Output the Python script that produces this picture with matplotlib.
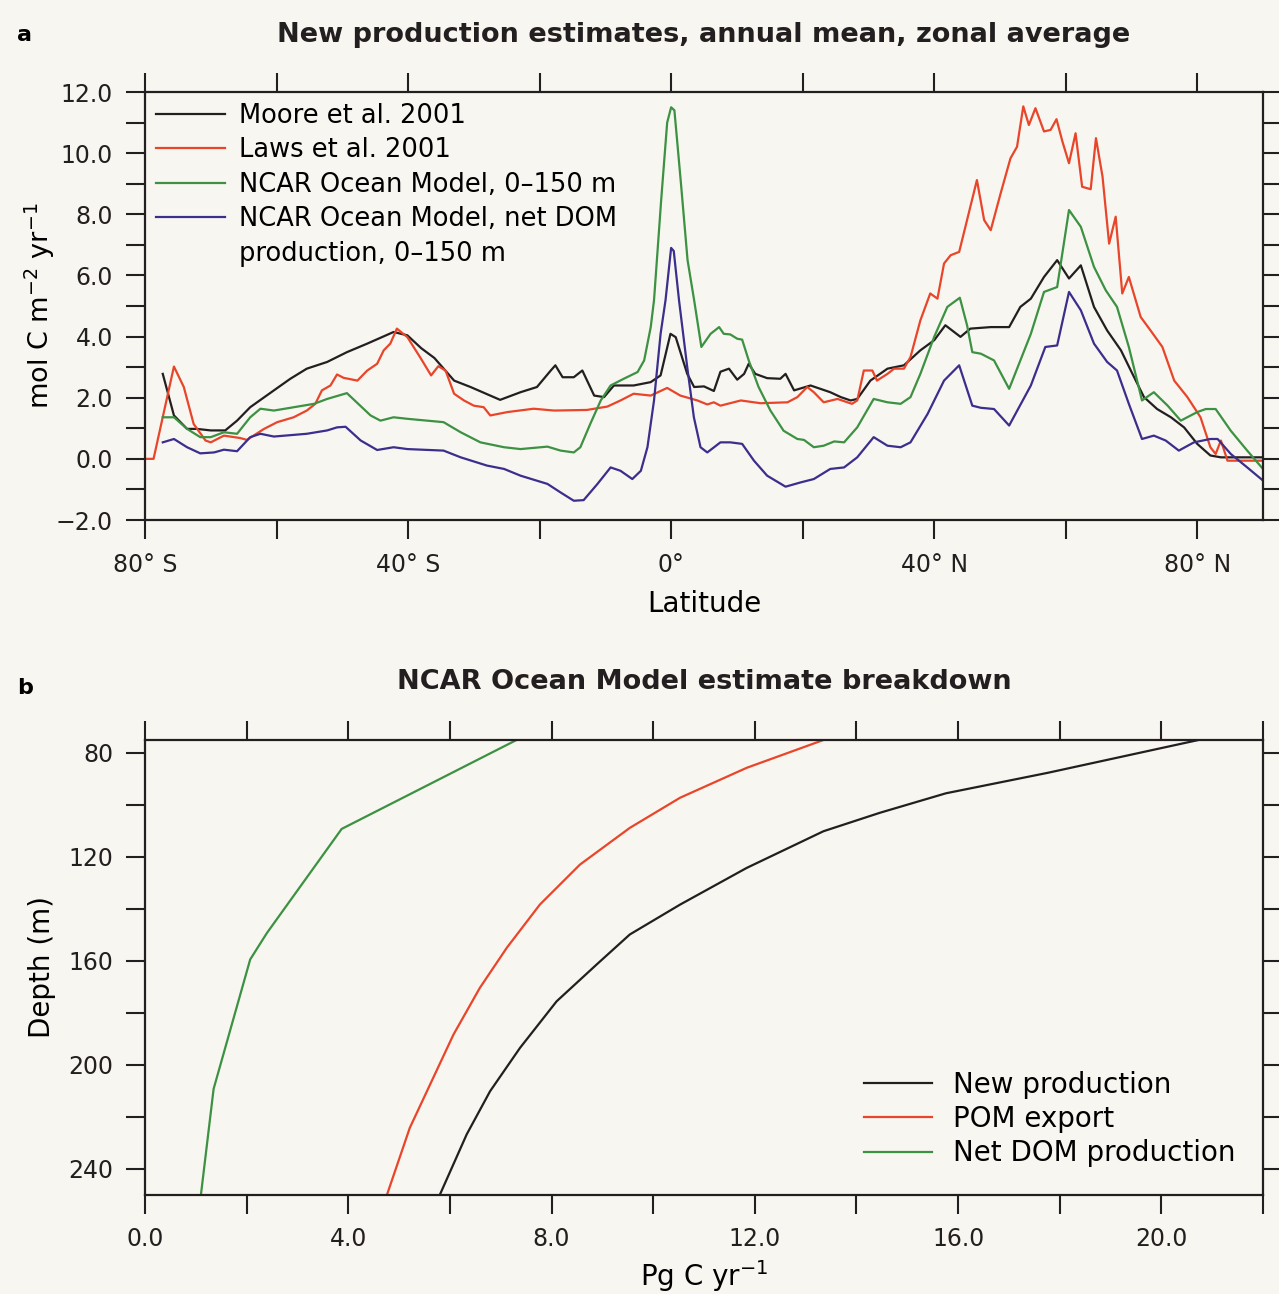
#new production figure - two panels
import numpy as np
import matplotlib
matplotlib.use('Agg')
import matplotlib.pyplot as plt
from matplotlib.ticker import MultipleLocator, FixedLocator, FixedFormatter, FormatStrFormatter, FuncFormatter
from matplotlib.lines import Line2D

plt.rcParams['font.family'] = ['DejaVu Sans']
plt.rcParams['mathtext.fontset'] = 'dejavusans'

# ---- panel a: zonal mean new production (mol C m-2 yr-1) ----
moore_lat = [-77.3, -75.6, -73.6, -72.1, -70.0, -67.8, -66.0, -64.0, -60.4, -57.9, -55.4, -52.3,
             -49.3, -46.2, -42.2, -40.1, -38.0, -36.0, -33.0, -30.5, -26.0, -22.9, -20.4, -18.3,
             -17.6, -16.5, -14.8, -13.5, -11.7, -10.2, -8.7, -5.7, -3.1, -1.6, -0.1, 0.7, 2.45,
             3.5, 5.0, 6.5, 7.5, 8.8, 10.05, 11.1, 11.8, 12.8, 14.6, 16.6, 17.4, 18.7, 21.2, 24.2,
             25.8, 27.3, 28.3, 30.3, 32.9, 35.4, 37.9, 40.0, 41.7, 44.0, 45.5, 48.6, 51.4, 53.1,
             54.7, 56.7, 58.7, 60.5, 62.3, 64.3, 66.3, 68.4, 69.9, 71.9, 73.9, 76.0, 78.0, 80.0,
             82.0, 83.6, 90.0]
moore_val = [2.78, 1.42, 0.98, 0.98, 0.93, 0.93, 1.25, 1.69, 2.24, 2.62, 2.95, 3.17,
             3.49, 3.77, 4.15, 4.04, 3.62, 3.30, 2.56, 2.35, 1.93, 2.18, 2.35, 2.89,
             3.06, 2.67, 2.67, 2.89, 2.07, 2.02, 2.40, 2.40, 2.51, 2.73, 4.09, 3.98, 2.78,
             2.35, 2.37, 2.22, 2.85, 2.95, 2.59, 2.78, 3.11, 2.78, 2.64, 2.62, 2.78, 2.24, 2.40, 2.18,
             2.02, 1.91, 1.96, 2.56, 2.95, 3.06, 3.55, 3.88, 4.37, 3.99, 4.26, 4.31, 4.31, 4.97,
             5.24, 5.95, 6.50, 5.90, 6.33, 4.97, 4.20, 3.55, 2.89, 2.02, 1.63, 1.36, 1.03, 0.49,
             0.11, 0.05, 0.05]

laws_lat = [-80.0, -78.7, -75.6, -74.1, -72.6, -70.8, -70.0, -68.0, -65.5, -64.5, -61.9, -59.9,
            -57.4, -55.4, -54.1, -53.1, -51.8, -50.8, -49.8, -47.7, -46.2, -44.7, -43.7, -42.7,
            -41.7, -40.1, -38.1, -36.5, -35.4, -34.3, -33.0, -31.5, -30.0, -28.5, -27.5, -24.9,
            -20.9, -17.8, -12.8, -9.7, -7.7, -5.7, -3.1, -0.6, 1.4, 4.0, 5.5, 6.5, 7.5, 10.6,
            13.6, 17.7, 19.2, 20.7, 21.7, 23.2, 25.3, 27.5, 28.3, 29.3, 30.6, 31.3, 32.9, 33.9,
            35.4, 36.4, 37.9, 39.4, 40.5, 41.5, 42.5, 43.8, 45.0, 46.5, 47.6, 48.6, 50.1, 51.6,
            52.6, 53.55, 54.4, 55.4, 56.7, 57.7, 58.6, 59.5, 60.5, 61.5, 62.5, 63.8, 64.6, 65.6,
            66.6, 67.6, 68.6, 69.6, 71.4, 72.9, 74.7, 76.5, 78.5, 80.5, 82.0, 82.8, 83.6, 84.6,
            90.0]
laws_val = [0.0, 0.0, 3.02, 2.35, 1.14, 0.60, 0.54, 0.76, 0.68, 0.62, 0.98, 1.20,
            1.36, 1.58, 1.80, 2.24, 2.40, 2.76, 2.65, 2.56, 2.89, 3.11, 3.55, 3.77,
            4.26, 3.98, 3.30, 2.73, 3.03, 2.89, 2.13, 1.91, 1.74, 1.69, 1.42, 1.53,
            1.64, 1.58, 1.60, 1.71, 1.91, 2.13, 2.07, 2.32, 2.07, 1.91, 1.78, 1.85, 1.74, 1.91,
            1.82, 1.85, 2.02, 2.35, 2.18, 1.85, 1.96, 1.80, 1.91, 2.89, 2.89, 2.56, 2.78, 2.95,
            2.95, 3.33, 4.53, 5.41, 5.24, 6.39, 6.66, 6.77, 7.81, 9.12, 7.81, 7.48, 8.68, 9.83,
            10.21, 11.53, 10.92, 11.47, 10.71, 10.76, 11.11, 10.38, 9.67, 10.65, 8.90, 8.82, 10.49, 9.23,
            7.04, 7.92, 5.41, 5.95, 4.64, 4.20, 3.66, 2.56, 2.02, 1.36, 0.38, 0.16, 0.60, -0.06,
            -0.06]

ncar_lat = [-77.3, -75.6, -73.6, -71.6, -70.0, -68.0, -66.0, -64.0, -62.45, -60.4, -57.9, -54.3,
            -52.3, -49.3, -45.7, -44.2, -42.2, -40.1, -34.6, -32.0, -29.0, -25.4, -22.9, -18.8,
            -16.8, -14.8, -13.8, -12.3, -10.7, -9.2, -7.2, -5.1, -4.1, -3.1, -2.6, -1.5, -0.6,
            0.0, 0.5, 1.5, 2.5, 3.5, 4.6, 6.0, 7.3, 8.0, 9.0, 10.05, 10.8, 11.8, 13.3, 15.1,
            17.1, 19.2, 20.2, 21.7, 23.2, 24.8, 26.3, 28.3, 30.8, 32.9, 34.9, 36.4, 37.9, 40.0,
            42.0, 43.9, 45.0, 45.8, 47.1, 49.1, 51.4, 54.7, 56.7, 58.7, 60.5, 62.3, 64.3, 66.1,
            67.8, 69.6, 71.6, 73.4, 75.5, 77.5, 80.0, 81.3, 82.8, 85.1, 87.6, 90.0]
ncar_val = [1.36, 1.36, 0.98, 0.71, 0.71, 0.87, 0.82, 1.36, 1.64, 1.58, 1.67, 1.80,
            1.96, 2.15, 1.42, 1.25, 1.36, 1.31, 1.20, 0.87, 0.54, 0.38, 0.32, 0.40,
            0.27, 0.21, 0.38, 1.14, 1.91, 2.40, 2.62, 2.84, 3.22, 4.31, 5.19, 8.5, 11.0,
            11.5, 11.4, 9.0, 6.5, 5.19, 3.66, 4.09, 4.31, 4.09, 4.07, 3.93, 3.90, 3.22, 2.35, 1.58,
            0.92, 0.65, 0.62, 0.38, 0.43, 0.57, 0.54, 1.03, 1.96, 1.85, 1.80, 2.02, 2.78, 3.99,
            4.97, 5.27, 4.37, 3.49, 3.44, 3.22, 2.29, 4.09, 5.46, 5.62, 8.14, 7.59, 6.28, 5.51,
            4.97, 3.66, 1.91, 2.18, 1.74, 1.25, 1.53, 1.63, 1.63, 0.92, 0.27, -0.33]

dom_lat = [-77.3, -75.6, -73.6, -71.6, -69.5, -68.0, -66.0, -64.0, -62.45, -60.4, -55.4, -52.3,
           -50.8, -49.5, -47.2, -44.7, -42.2, -40.1, -34.6, -32.0, -28.0, -25.4, -22.9, -18.8,
           -16.8, -14.8, -13.3, -11.2, -9.2, -7.7, -5.9, -4.6, -3.6, -2.6, -1.6, -0.85, 0.0,
           0.4, 1.2, 2.45, 3.46, 4.47, 5.5, 7.5, 9.0, 10.8, 12.6, 14.6, 17.4, 19.7, 21.7, 24.2,
           26.3, 28.3, 30.8, 32.9, 34.9, 36.4, 39.0, 41.5, 43.8, 45.8, 47.1, 49.1, 51.4, 54.7,
           56.9, 58.7, 60.5, 62.3, 64.3, 66.3, 67.8, 69.6, 71.6, 73.4, 75.2, 77.2, 79.5, 82.0,
           83.1, 85.1, 87.6, 90.0]
dom_val = [0.54, 0.65, 0.38, 0.18, 0.21, 0.30, 0.25, 0.71, 0.82, 0.73, 0.82, 0.93,
           1.03, 1.05, 0.60, 0.29, 0.38, 0.32, 0.27, 0.05, -0.22, -0.33, -0.55, -0.82,
           -1.10, -1.37, -1.35, -0.82, -0.28, -0.39, -0.66, -0.39, 0.38, 1.91, 4.09, 5.19, 6.9,
           6.8, 5.19, 3.00, 1.36, 0.38, 0.21, 0.54, 0.54, 0.49, -0.06, -0.55, -0.91, -0.77, -0.66, -0.33,
           -0.28, 0.05, 0.71, 0.43, 0.38, 0.54, 1.47, 2.56, 3.06, 1.74, 1.67, 1.63, 1.09, 2.40,
           3.66, 3.71, 5.46, 4.86, 3.77, 3.17, 2.89, 1.80, 0.65, 0.76, 0.60, 0.27, 0.54, 0.65,
           0.65, 0.16, -0.28, -0.71]

lat_ticks = [-80, -40, 0, 40, 80]
lat_labels = ['80° S', '40° S', '0°', '40° N', '80° N']

# ---- panel b: depth breakdown (Pg C yr-1) ----
newprod_depth = [75, 87.6, 95.5, 103.0, 110.1, 124.2, 138.3, 149.8, 161.3, 175.5, 193.4, 210.1, 226.7, 250]
newprod_val = [20.73, 17.77, 15.76, 14.46, 13.35, 11.84, 10.53, 9.54, 8.89, 8.10, 7.38, 6.79, 6.33, 5.80]
pom_depth = [75, 85.7, 97.2, 108.8, 122.9, 138.3, 154.9, 170.3, 188.3, 207.5, 224.2, 250]
pom_val = [13.35, 11.84, 10.53, 9.54, 8.56, 7.77, 7.12, 6.59, 6.07, 5.61, 5.21, 4.76]
dom_depth = [75, 109.2, 149.2, 159.4, 209.2, 250]
dom_flux = [7.31, 3.87, 2.40, 2.07, 1.35, 1.10]

bg = '#f8f6f0'
c_black = '#231f20'
c_red = '#e8452a'
c_green = '#3c9142'
c_blue = '#3b2e8c'

fig = plt.figure(figsize=(12.79, 12.94), dpi=100, facecolor=bg)
W, H = 1279.0, 1294.0

def ax_rect(l, t, r, b):
    return [l / W, 1 - b / H, (r - l) / W, (b - t) / H]

def style_axes(ax):
    ax.set_facecolor(bg)
    for s in ax.spines.values():
        s.set_linewidth(1.6)
        s.set_color(c_black)
    ax.tick_params(which='both', direction='out', length=14, width=1.5, color=c_black,
                   top=True, right=True, labelsize=17, labelcolor='#231f20')

def one_dec(v, pos):
    return ('%.1f' % v).replace('-', '\u2212')

# panel a
ax1 = fig.add_axes(ax_rect(145, 92, 1263, 520))
style_axes(ax1)
l1, = ax1.plot(moore_lat, moore_val, color=c_black, lw=1.6)
l2, = ax1.plot(laws_lat, laws_val, color=c_red, lw=1.6)
l3, = ax1.plot(ncar_lat, ncar_val, color=c_green, lw=1.6)
l4, = ax1.plot(dom_lat, dom_val, color=c_blue, lw=1.6)
ax1.set_xlim(-80, 90)
ax1.set_ylim(-2, 12)
ax1.xaxis.set_major_locator(FixedLocator(lat_ticks))
ax1.xaxis.set_major_formatter(FixedFormatter(lat_labels))
ax1.xaxis.set_minor_locator(MultipleLocator(20))
ax1.yaxis.set_major_locator(MultipleLocator(2))
ax1.yaxis.set_minor_locator(MultipleLocator(1))
ax1.yaxis.set_major_formatter(FuncFormatter(one_dec))
ax1.tick_params(axis='x', which='both', pad=10)
ax1.tick_params(axis='y', which='both', pad=9)
ax1.set_xlabel('Latitude', fontsize=20, va='center')
ax1.xaxis.set_label_coords(0.5, -0.196)
ax1.set_ylabel(r'mol C m$^{-2}$ yr$^{-1}$', fontsize=19.5, va='center')
ax1.yaxis.set_label_coords(-0.094, 0.5)
blank = Line2D([], [], color='none')
ax1.legend([l1, l2, l3, l4, blank],
           ['Moore et al. 2001', 'Laws et al. 2001', 'NCAR Ocean Model, 0–150 m',
            'NCAR Ocean Model, net DOM', 'production, 0–150 m'],
           loc='upper left', bbox_to_anchor=(0.0, 1.0), frameon=False, fontsize=18.5,
           handlelength=2.7, handletextpad=0.55, labelspacing=0.33,
           borderpad=0.42, borderaxespad=0.0)

# panel b
ax2 = fig.add_axes(ax_rect(145, 740, 1263, 1195))
style_axes(ax2)
m1, = ax2.plot(newprod_val, newprod_depth, color=c_black, lw=1.6)
m2, = ax2.plot(pom_val, pom_depth, color=c_red, lw=1.6)
m3, = ax2.plot(dom_flux, dom_depth, color=c_green, lw=1.6)
ax2.set_xlim(0, 22)
ax2.set_ylim(250, 75)
ax2.xaxis.set_major_locator(MultipleLocator(4))
ax2.xaxis.set_minor_locator(MultipleLocator(2))
ax2.xaxis.set_major_formatter(FormatStrFormatter('%.1f'))
ax2.yaxis.set_major_locator(MultipleLocator(40))
ax2.yaxis.set_minor_locator(MultipleLocator(20))
ax2.tick_params(axis='both', which='both', pad=9)
ax2.set_xlabel(r'Pg C yr$^{-1}$', fontsize=20, va='center')
ax2.xaxis.set_label_coords(0.5, -0.178)
ax2.set_ylabel('Depth (m)', fontsize=20, va='center')
ax2.yaxis.set_label_coords(-0.092, 0.5)
ax2.legend([m1, m2, m3], ['New production', 'POM export', 'Net DOM production'],
           loc='lower right', frameon=False, fontsize=20,
           handlelength=2.45, handletextpad=0.75, labelspacing=0.22,
           borderpad=0.4, borderaxespad=0.6)

# titles and panel letters
fig.text(704 / W, 1 - 35 / H, 'New production estimates, annual mean, zonal average',
         ha='center', va='center', fontsize=19.5, fontweight='bold', color=c_black)
fig.text(704 / W, 1 - 682 / H, 'NCAR Ocean Model estimate breakdown',
         ha='center', va='center', fontsize=19.5, fontweight='bold', color=c_black)
fig.text(17 / W, 1 - 35 / H, 'a', ha='left', va='center', fontsize=16, fontweight='bold')
fig.text(17 / W, 1 - 688 / H, 'b', ha='left', va='center', fontsize=16, fontweight='bold')

fig.savefig('out.png', dpi=100, facecolor=bg)
